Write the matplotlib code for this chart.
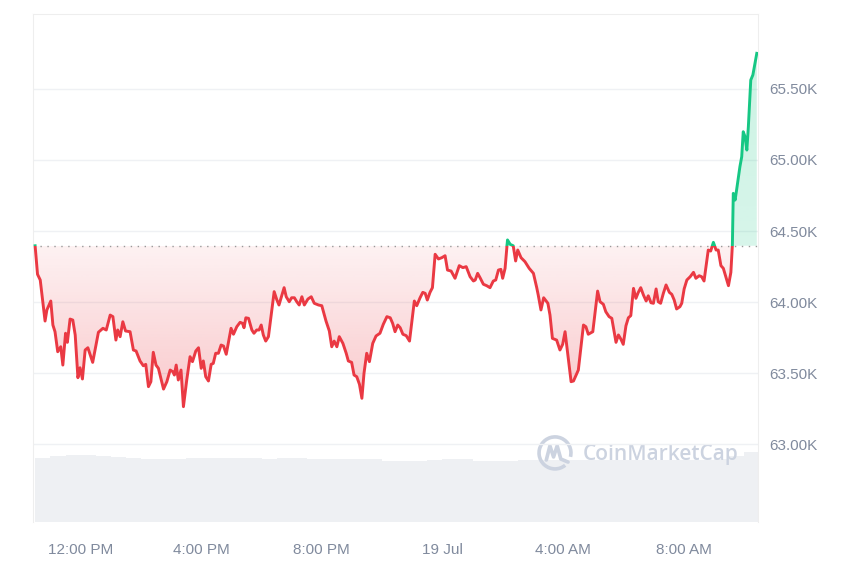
import numpy as np
import matplotlib
matplotlib.use("Agg")
import matplotlib.pyplot as plt
from matplotlib.patches import Rectangle, Arc

# hours since 18 Jul 00:00 and BTC price (USD)
hours = [10.49, 10.57, 10.66, 10.82, 10.88, 11.01, 11.08, 11.15, 11.24, 11.34, 11.41, 11.50, 11.56, 11.65,
         11.74, 11.82, 11.91, 11.98, 12.06, 12.15, 12.24, 12.40, 12.59, 12.74, 12.85, 12.98, 13.07, 13.17,
         13.23, 13.31, 13.40, 13.49, 13.64, 13.75, 13.84, 13.97, 14.08, 14.16, 14.25, 14.33, 14.41, 14.50,
         14.58, 14.75, 14.86, 14.97, 15.06, 15.11, 15.17, 15.24, 15.33, 15.41, 15.52, 15.63, 15.71, 15.82,
         15.91, 16.00, 16.07, 16.15, 16.24, 16.33, 16.40, 16.48, 16.57, 16.66, 16.74, 16.83, 16.93, 16.99,
         17.07, 17.18, 17.29, 17.37, 17.42, 17.48, 17.57, 17.68, 17.75, 17.84, 17.92, 17.99, 18.06, 18.14,
         18.23, 18.42, 18.51, 18.58, 18.65, 18.75, 18.82, 18.92, 19.00, 19.09, 19.17, 19.25, 19.34, 19.42,
         19.54, 19.65, 19.75, 19.89, 20.00, 20.14, 20.25, 20.33, 20.41, 20.50, 20.58, 20.70, 20.81, 20.88,
         20.99, 21.07, 21.16, 21.25, 21.33, 21.40, 21.49, 21.58, 21.69, 21.80, 21.93, 22.04, 22.16, 22.27,
         22.35, 22.43, 22.52, 22.60, 22.69, 22.80, 22.91, 23.07, 23.15, 23.26, 23.35, 23.43, 23.50, 23.59,
         23.67, 23.76, 23.87, 23.98, 24.09, 24.17, 24.29, 24.42, 24.56, 24.68, 24.79, 24.92, 25.03, 25.09,
         25.17, 25.25, 25.36, 25.47, 25.58, 25.69, 25.77, 25.86, 25.94, 26.00, 26.08, 26.16, 26.25, 26.35,
         26.43, 26.50, 26.61, 26.74, 26.88, 27.02, 27.13, 27.18, 27.27, 27.36, 27.50, 27.57, 27.65, 27.79,
         27.90, 27.99, 28.07, 28.16, 28.27, 28.35, 28.51, 28.68, 28.76, 28.84, 28.99, 29.07, 29.15, 29.23,
         29.34, 29.42, 29.53, 29.62, 29.76, 29.84, 29.92, 30.00, 30.09, 30.17, 30.25, 30.34, 30.42, 30.50,
         30.58, 30.67, 30.76, 30.83, 30.92, 31.00, 31.09, 31.16, 31.24, 31.33, 31.42, 31.53, 31.61, 31.69,
         31.77, 31.88, 31.94, 32.02, 32.11, 32.22, 32.33, 32.41, 32.52, 32.60, 32.68, 32.82, 32.90, 32.99,
         33.08, 33.15, 33.24, 33.32, 33.41, 33.49, 33.57, 33.62, 33.65, 33.71, 33.76, 33.87, 33.93, 33.98,
         34.04, 34.10, 34.15, 34.23, 34.30, 34.43]
price = [64396, 64195, 64155, 63866, 63944, 64007, 63838, 63791, 63650, 63685, 63556, 63780, 63716, 63880,
         63873, 63768, 63467, 63537, 63458, 63662, 63678, 63575, 63787, 63815, 63803, 63908, 63897, 63732,
         63803, 63756, 63861, 63796, 63791, 63662, 63655, 63585, 63551, 63561, 63404, 63439, 63646, 63556,
         63533, 63387, 63439, 63521, 63509, 63486, 63556, 63451, 63521, 63263, 63451, 63615, 63580, 63655,
         63678, 63533, 63585, 63474, 63444, 63561, 63568, 63639, 63639, 63697, 63690, 63632, 63744, 63815,
         63773, 63826, 63857, 63850, 63819, 63889, 63885, 63803, 63780, 63803, 63803, 63838, 63768, 63725,
         63756, 64073, 64014, 63979, 64030, 64101, 64037, 64002, 64030, 64030, 64002, 63979, 64037, 63979,
         64021, 64037, 63991, 63979, 63974, 63866, 63796, 63685, 63725, 63685, 63756, 63709, 63639, 63585,
         63575, 63486, 63474, 63420, 63322, 63498, 63639, 63580, 63709, 63761, 63780, 63843, 63897, 63889,
         63850, 63791, 63838, 63819, 63773, 63763, 63725, 64007, 63974, 64030, 64068, 64061, 64014, 64068,
         64101, 64336, 64303, 64312, 64326, 64225, 64218, 64167, 64256, 64242, 64249, 64178, 64148, 64155,
         64202, 64171, 64125, 64115, 64101, 64148, 64155, 64225, 64230, 64167, 64237, 64437, 64406, 64396,
         64289, 64366, 64312, 64284, 64237, 64202, 64101, 64049, 63944, 64030, 63991, 63908, 63744, 63732,
         63662, 63702, 63791, 63632, 63439, 63444, 63521, 63838, 63826, 63773, 63791, 63932, 64077, 64002,
         63984, 63932, 63897, 63885, 63716, 63768, 63739, 63702, 63833, 63889, 63904, 64096, 64026, 64068,
         64101, 64049, 64007, 64044, 63995, 63991, 64092, 64002, 63991, 64061, 64120, 64068, 64054, 64014,
         63951, 63967, 63991, 64092, 64155, 64178, 64209, 64167, 64185, 64178, 64148, 64366, 64359, 64420,
         64366, 64366, 64256, 64237, 64171, 64115, 64209, 64401, 64765, 64718, 64789, 64953, 65023, 65199,
         65164, 65070, 65234, 65563, 65599, 65751]
open_price = 64396

# 30-minute volume buckets (billions USD)
vol_hours = [10.75 + 0.5 * i for i in range(48)]
volume = [31.5, 32.5, 33.0, 33.0, 32.5, 32.0, 31.5, 31.0, 31.0, 31.0, 31.5, 31.5, 31.5, 31.5, 31.5, 31.0,
          31.5, 31.3, 30.9, 30.9, 31.0, 30.9, 30.9, 30.2, 30.2, 30.2, 30.3, 30.9, 30.9, 30.0, 30.0, 30.0,
          30.5, 30.5, 30.5, 30.5, 30.5, 30.5, 30.5, 30.5, 30.5, 30.5, 30.5, 30.5, 30.5, 31.0, 32.5, 34.4]

tick_hours = [12, 16, 20, 24, 28, 32]
tick_labels = ['12:00 PM', '4:00 PM', '8:00 PM', '19 Jul', '4:00 AM', '8:00 AM']
price_ticks = [63000, 63500, 64000, 64500, 65000, 65500]

RED = '#ea3943'
GREEN = '#16c784'
GREY = '#808a9d'
MARK = '#ccd3e0'

plt.rcParams['font.family'] = ['Liberation Sans', 'DejaVu Sans']

x = np.array(hours)
p = np.array(price)
xlim = (10.42, 34.47)
ylim = (62451, 66028)

fig = plt.figure(figsize=(8.5, 5.67), dpi=100)
rect = [33 / 850, 45 / 567, 725 / 850, 508 / 567]

# volume underneath
axv = fig.add_axes(rect, zorder=1)
axv.bar(vol_hours, volume, width=0.5, color='#eef0f3', linewidth=0)
axv.set_xlim(xlim)
axv.set_ylim(0, 250)
axv.axis('off')

# watermark
axv.text(0.865, 0.132, 'CoinMarketCap', transform=axv.transAxes, ha='center', va='center',
         fontsize=15, fontweight='semibold', family=['Open Sans', 'DejaVu Sans'], color=MARK)
axv.add_patch(Arc((0.72, 0.136), 0.044, 0.063, theta1=-20, theta2=300, transform=axv.transAxes,
                  color=MARK, lw=2.6))
logo_x = [0.708, 0.713, 0.718, 0.723, 0.728, 0.738]
logo_y = [0.122, 0.150, 0.128, 0.150, 0.124, 0.118]
axv.plot(logo_x, logo_y, transform=axv.transAxes, color=MARK, lw=2.6, solid_capstyle='round')

ax = fig.add_axes(rect, zorder=2)
ax.patch.set_visible(False)

# gradient fills clipped to area between price and open
below = ax.fill_between(x, np.minimum(p, open_price), open_price, facecolor='none', edgecolor='none')
above = ax.fill_between(x, open_price, np.maximum(p, open_price), facecolor='none', edgecolor='none')

grad = np.linspace(0, 1, 256).reshape(-1, 1)
red_img = np.zeros((256, 1, 4))
red_img[..., :3] = matplotlib.colors.to_rgb(RED)
red_img[..., 3] = 0.28 - 0.21 * grad
im_r = ax.imshow(red_img, extent=[xlim[0], xlim[1], min(price), open_price], origin='lower',
                 aspect='auto', zorder=1, interpolation='bilinear')
im_r.set_clip_path(below.get_paths()[0], transform=ax.transData)

green_img = np.zeros((256, 1, 4))
green_img[..., :3] = matplotlib.colors.to_rgb(GREEN)
green_img[..., 3] = 0.17 + 0.05 * grad
im_g = ax.imshow(green_img, extent=[xlim[0], xlim[1], open_price, max(price)], origin='lower',
                 aspect='auto', zorder=1, interpolation='bilinear')
im_g.set_clip_path(above.get_paths()[0], transform=ax.transData)
ax.set_xlim(xlim)
ax.set_ylim(ylim)

# line coloured by side of the open price
ln_r, = ax.plot(x, p, color=RED, lw=2.1, zorder=3, solid_joinstyle='round')
ln_r.set_clip_path(Rectangle((xlim[0], ylim[0]), xlim[1] - xlim[0], open_price - ylim[0],
                             transform=ax.transData))
ln_g, = ax.plot(x, p, color=GREEN, lw=2.1, zorder=3, solid_joinstyle='round')
ln_g.set_clip_path(Rectangle((xlim[0], open_price), xlim[1] - xlim[0], ylim[1] - open_price,
                             transform=ax.transData))

ax.axhline(open_price, color='#999999', lw=1, ls=(0, (1, 4)), zorder=2)

ax.set_yticks(price_ticks)
ax.set_yticklabels(['%.2fK' % (v / 1000) for v in price_ticks])
ax.yaxis.tick_right()
ax.set_xticks(tick_hours)
ax.set_xticklabels(tick_labels)
ax.tick_params(axis='both', length=0, labelsize=11, colors=GREY)
ax.tick_params(axis='x', pad=15)
ax.tick_params(axis='y', pad=8)
ax.grid(axis='y', color='#eff1f4', lw=1)
ax.set_axisbelow(True)

for side in ['left', 'top', 'right']:
    ax.spines[side].set_color('#eeeeee')
ax.spines['bottom'].set_visible(False)

fig.savefig('out.png', dpi=100, facecolor='white')
